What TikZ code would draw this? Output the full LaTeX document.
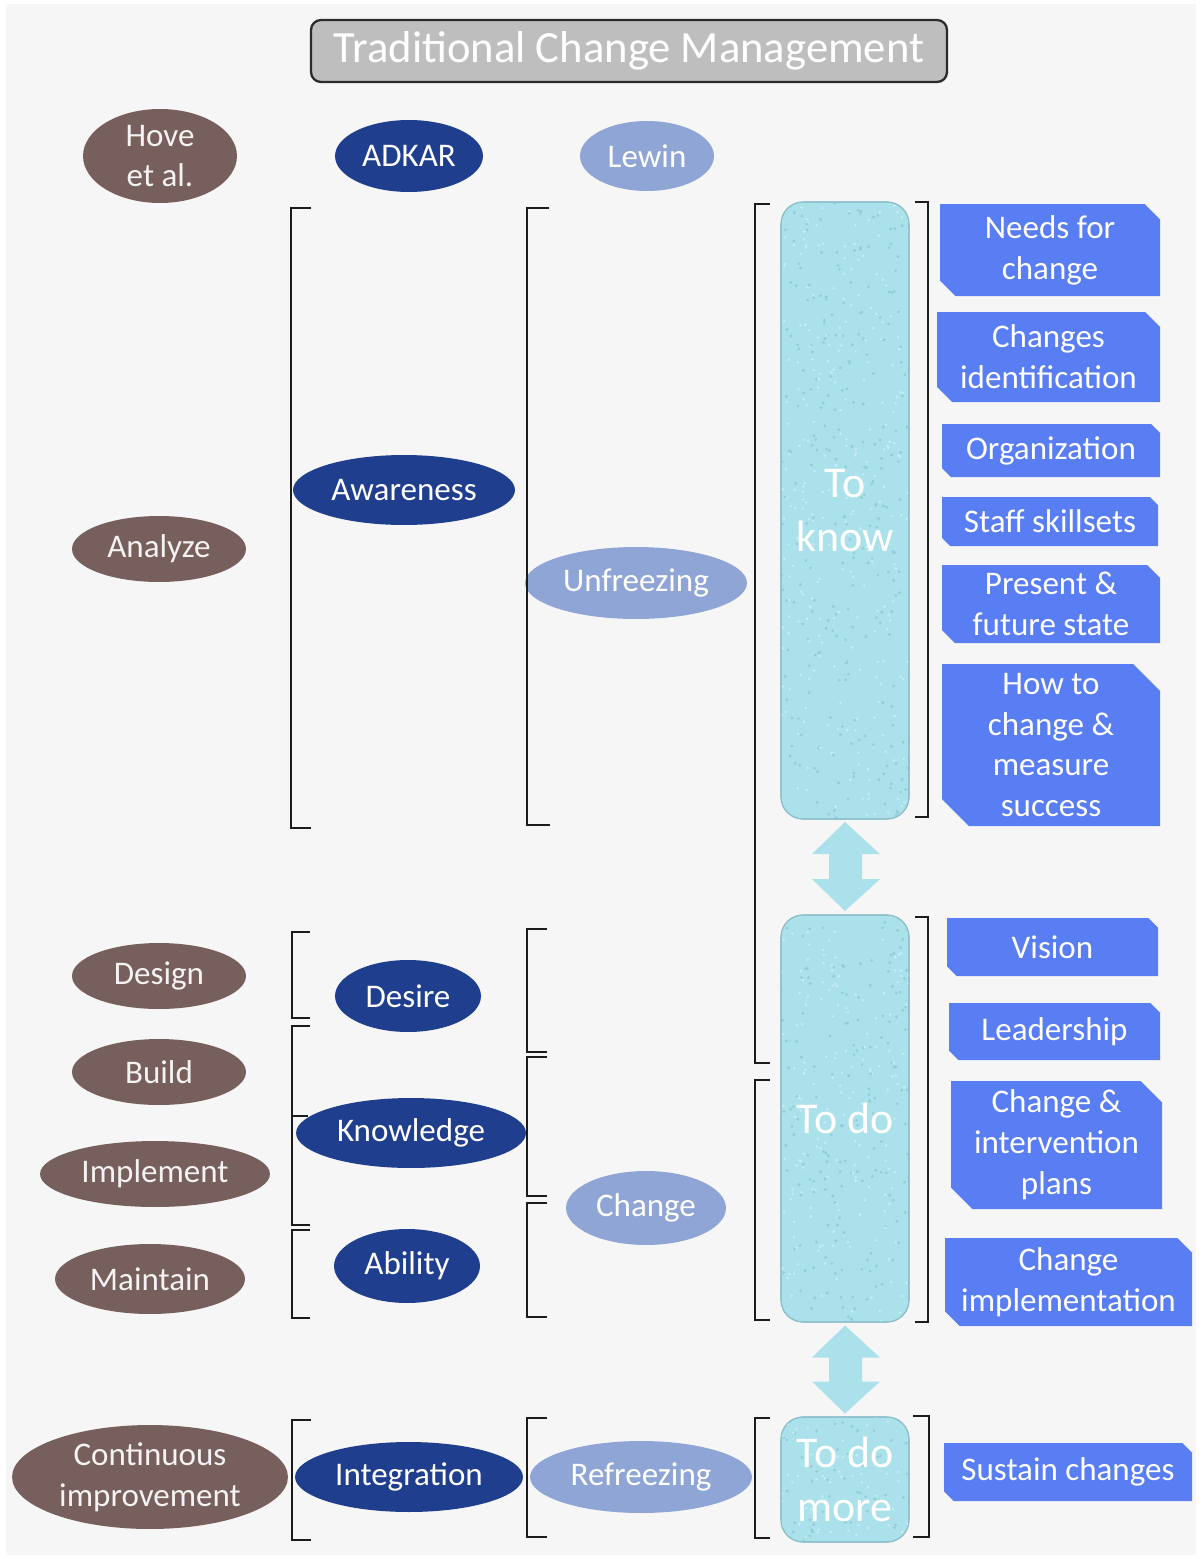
\documentclass[tikz,border=0pt]{standalone}
\usepackage{fontspec}
\setmainfont{Carlito}
\usetikzlibrary{shapes.geometric,calc}

\definecolor{pagebg}{HTML}{F6F6F6}
\definecolor{titlefill}{HTML}{BEBEBE}
\definecolor{titleline}{HTML}{2B2B2B}
\definecolor{hovec}{HTML}{765F5C}
\definecolor{adkarc}{HTML}{1F3E8D}
\definecolor{lewinc}{HTML}{8FA5D6}
\definecolor{tabc}{HTML}{597DF2}
\definecolor{phasec}{HTML}{ABE1EA}
\definecolor{phaseline}{HTML}{8CBFC9}
\definecolor{speckdark}{HTML}{93CDD8}
\definecolor{specklight}{HTML}{C6EFF5}
\definecolor{brkc}{HTML}{1C1C1C}

% snipped-corner tab with centred label: x1 y1 x2 y2 name text
\newcommand\sniptab[6]{%
  \pgfmathsetmacro\snipc{min(#3-#1,#4-#2)/6}%
  \fill[tabc] (#1,#2) -- ({#3-\snipc},#2) -- (#3,{#2+\snipc}) -- (#3,#4)
    -- ({#1+\snipc},#4) -- (#1,{#4-\snipc}) -- cycle;
  \node[lbl] (#5) at ({(#1+#3)/2},{(#2+#4)/2}) {#6};
}
% speckled texture inside a rounded phase box: x1 y1 x2 y2 count
\newcommand\speckle[5]{%
  \begin{scope}
    \clip[rounded corners=0.44cm] (#1,#2) rectangle (#3,#4);
    \foreach \k in {1,...,#5}{
      \fill[speckdark] ({#1+rnd*(#3-#1)},{#2+rnd*(#4-#2)}) circle (0.9pt);
      \fill[specklight] ({#1+rnd*(#3-#1)},{#2+rnd*(#4-#2)}) circle (0.8pt);
    }
  \end{scope}
}

\begin{document}
\begin{tikzpicture}[x=0.02cm,y=-0.02cm,
  ell/.style 2 args={ellipse, inner sep=0pt, minimum width=#1*0.04cm, minimum height=#2*0.04cm},
  hove/.style={fill=hovec},
  adkar/.style={fill=adkarc},
  lewin/.style={fill=lewinc},
  lbl/.style={text=white, align=center, inner sep=0pt, font=\fontsize{18.8}{23.3}\selectfont},
  hovelbl/.style={lbl, text=white!92!hovec},
  phase/.style={rectangle, rounded corners=0.44cm, fill=phasec, draw=phaseline, line width=0.6pt,
    minimum width=128*0.02cm, inner sep=0pt, text=white, align=center,
    font=\fontsize{25}{30.7}\selectfont},
  brk/.style={draw=brkc, line width=1.4pt},
  dblarrow/.style={fill=phasec}
]
\useasboundingbox (0,0) rectangle (1202,1559);
\fill[white] (0,0) rectangle (1202,1559);
\fill[pagebg] (6,4) rectangle (1196,1555);

% title
\node[rectangle, rounded corners=0.2cm, fill=titlefill, draw=titleline, line width=1.3pt,
  minimum width=636*0.02cm, minimum height=62*0.02cm, text=white,
  font=\fontsize{25.4}{30}\selectfont] (title) at (629,51) {Traditional Change Management};

% model headers
\node[ell={77}{47}, hove] (hoveE) at (160,156) {};
\node[hovelbl] (hoveT) at (hoveE) {Hove\\et al.};
\node[ell={74}{36}, adkar] (adkarE) at (409,156) {};
\node[lbl] (adkarT) at (adkarE) {ADKAR};
\node[ell={67}{35}, lewin] (lewinE) at (647,156) {};
\node[lbl] (lewinT) at (lewinE) {Lewin};

% Hove et al. stages
\node[ell={87}{33}, hove] (analyzeE) at (159,549) {};
\node[hovelbl] (analyzeT) at (analyzeE) {Analyze};
\node[ell={87}{33}, hove] (designE) at (159,976) {};
\node[hovelbl] (designT) at (designE) {Design};
\node[ell={87}{33}, hove] (buildE) at (159,1072) {};
\node[hovelbl] (buildT) at (buildE) {Build};
\node[ell={115}{33}, hove] (implementE) at (155,1174) {};
\node[hovelbl] (implementT) at (implementE) {Implement};
\node[ell={95}{35}, hove] (maintainE) at (150,1279) {};
\node[hovelbl] (maintainT) at (maintainE) {Maintain};
\node[ell={138}{52}, hove] (contE) at (150,1477) {};
\node[hovelbl] (contT) at (contE) {Continuous\\improvement};

% ADKAR stages
\node[ell={111}{35}, adkar] (awarenessE) at (404,490) {};
\node[lbl] (awarenessT) at (awarenessE) {Awareness};
\node[ell={73}{36}, adkar] (desireE) at (408,996) {};
\node[lbl] (desireT) at (desireE) {Desire};
\node[ell={115}{35}, adkar] (knowledgeE) at (411,1133) {};
\node[lbl] (knowledgeT) at (knowledgeE) {Knowledge};
\node[ell={73}{37}, adkar] (abilityE) at (407,1266) {};
\node[lbl] (abilityT) at (abilityE) {Ability};
\node[ell={114}{35}, adkar] (integrationE) at (409,1477) {};
\node[lbl] (integrationT) at (integrationE) {Integration};

% Lewin stages
\node[ell={111}{36}, lewin] (unfreezingE) at (636,583) {};
\node[lbl] (unfreezingT) at (unfreezingE) {Unfreezing};
\node[ell={80}{37}, lewin] (changeE) at (646,1208) {};
\node[lbl] (changeT) at (changeE) {Change};
\node[ell={111}{36}, lewin] (refreezingE) at (641,1477) {};
\node[lbl] (refreezingT) at (refreezingE) {Refreezing};

% brackets, ADKAR column
\draw[brk] (311,208) -- (291,208) -- (291,828) -- (311,828);
\draw[brk] (310,932) -- (292,932) -- (292,1018) -- (310,1018);
\draw[brk] (310,1026) -- (292,1026) -- (292,1225) -- (310,1225);
\draw[brk] (292,1116) -- (308,1116);
\draw[brk] (310,1230) -- (292,1230) -- (292,1318) -- (310,1318);
\draw[brk] (311,1420) -- (292,1420) -- (292,1540) -- (311,1540);

% brackets, Lewin column
\draw[brk] (549,208) -- (527,208) -- (527,825) -- (550,825);
\draw[brk] (547,929) -- (527,929) -- (527,1052) -- (547,1052);
\draw[brk] (547,1057) -- (527,1057) -- (527,1196) -- (547,1196);
\draw[brk] (547,1203) -- (527,1203) -- (527,1317) -- (547,1317);
\draw[brk] (547,1418) -- (527,1418) -- (527,1537) -- (547,1537);

% brackets round the phase boxes
\draw[brk] (770,204) -- (755,204) -- (755,1063) -- (770,1063);
\draw[brk] (770,1080) -- (755,1080) -- (755,1320) -- (770,1320);
\draw[brk] (770,1418) -- (755,1418) -- (755,1538) -- (770,1538);
\draw[brk] (915,202) -- (928,202) -- (928,817) -- (915,817);
\draw[brk] (915,917) -- (928,917) -- (928,1322) -- (915,1322);
\draw[brk] (913,1416) -- (929,1416) -- (929,1537) -- (913,1537);

% phase boxes
\pgfmathsetseed{11}
\node[phase, minimum height=617*0.02cm] (know) at (845,510.5) {};
\speckle{781}{202}{909}{819}{260}
\node[phase, fill=none, minimum height=617*0.02cm] (knowT) at (845,510.5) {To\\know};
\node[phase, minimum height=407*0.02cm] (todo) at (845,1118.5) {};
\speckle{781}{915}{909}{1322}{170}
\node[phase, fill=none, minimum height=407*0.02cm] (todoT) at (845,1118.5) {To do};
\node[phase, minimum height=125*0.02cm] (more) at (845,1479.5) {};
\speckle{781}{1417}{909}{1542}{55}
\node[phase, fill=none, minimum height=125*0.02cm] (moreT) at (845,1479.5) {To do\\more};

% two-way arrows between phases
\begin{scope}[shift={($(know.south)!0.5!(todo.north)$)}]
  \fill[dblarrow] (0,-45) -- (35,-13) -- (17,-13) -- (17,12) -- (35,12) -- (0,44)
    -- (-33,12) -- (-16,12) -- (-16,-13) -- (-33,-13) -- cycle;
\end{scope}
\begin{scope}[shift={($(todo.south)!0.5!(more.north)$)}]
  \fill[dblarrow] (0,-44) -- (35,-12) -- (17,-12) -- (17,12) -- (35,12) -- (0,44)
    -- (-33,12) -- (-16,12) -- (-16,-12) -- (-33,-12) -- cycle;
\end{scope}

% activity tabs
\sniptab{940}{204}{1160}{296}{needs}{Needs for\\change}
\sniptab{937}{312}{1160}{402}{ident}{Changes\\identification}
\sniptab{942}{424}{1160}{477}{org}{Organization}
\sniptab{942}{497}{1158}{546}{staff}{Staff skillsets}
\sniptab{942}{565}{1160}{643}{state}{Present \&\\future state}
\sniptab{942}{664}{1160}{826}{how}{How to\\change \&\\measure\\success}
\sniptab{947}{918}{1158}{976}{vision}{Vision}
\sniptab{949}{1003}{1160}{1060}{lead}{Leadership}
\sniptab{951}{1081}{1162}{1209}{plans}{Change \&\\intervention\\plans}
\sniptab{945}{1238}{1192}{1326}{impl}{Change\\implementation}
\sniptab{944}{1443}{1192}{1501}{sustain}{Sustain changes}
\end{tikzpicture}
\end{document}
